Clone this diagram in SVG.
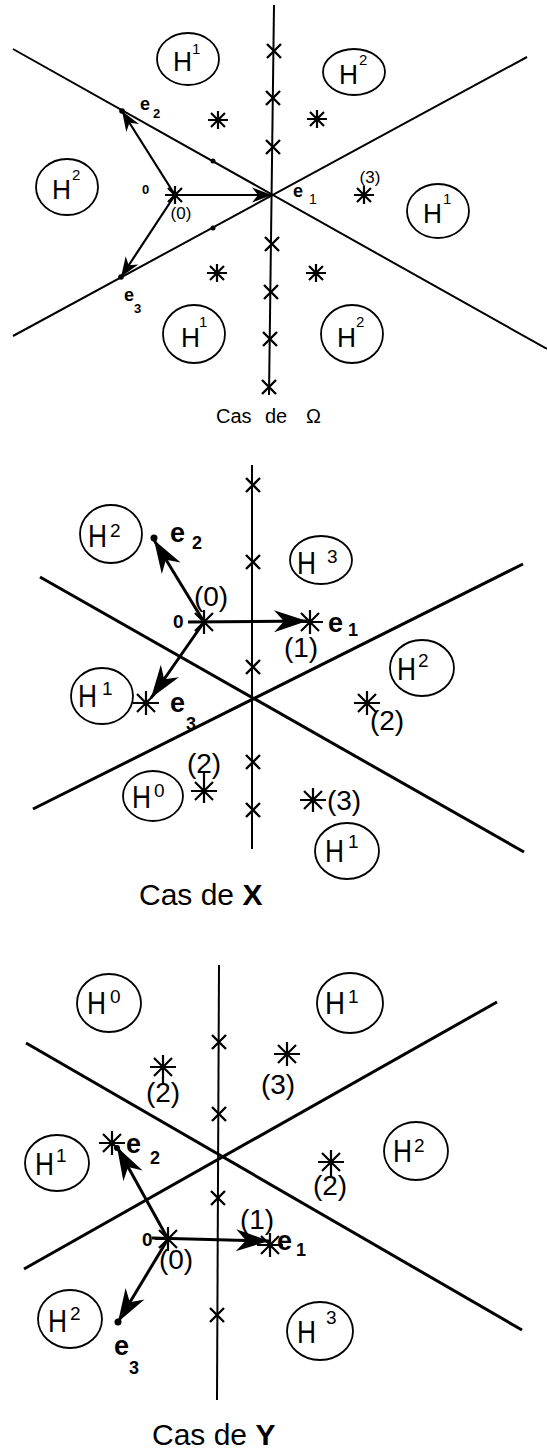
<svg xmlns="http://www.w3.org/2000/svg" xmlns:xlink="http://www.w3.org/1999/xlink" width="547" height="1453" viewBox="0 0 547 1453">
<style>
.ln{stroke:#000;fill:none;stroke-linecap:butt}
.l1{stroke-width:2}
.l2{stroke-width:3}
.ax{stroke-width:2}
.ar1{stroke-width:2.2}
.ar2{stroke-width:3}
.cr{stroke:#000;stroke-width:2.4;fill:none}
.st{stroke:#000;stroke-width:2.2;fill:none}
.el{stroke:#000;stroke-width:1.8;fill:none}
text{font-family:"Liberation Sans",Arial,sans-serif;fill:#000}
.b{font-weight:bold}
.h1{font-size:27px}
.s1{font-size:15px}
.h2{font-size:32px}
.s2{font-size:19px}
.p1{font-size:17px}
.p2{font-size:28px}
.e1{font-size:18px;font-weight:bold}
.e2{font-size:27px;font-weight:bold}
.d2{font-size:18px;font-weight:bold}
</style>
<defs>
<path id="sA" d="M-10,0H10M0,-9V9M-7,-7L7,7M-7,7L7,-7"/>
<path id="sB" d="M-13,0H13M0,-12V12M-9,-9L9,9M-9,9L9,-9"/>
<path id="xx" d="M-7,-7L7,7M-7,7L7,-7"/>
<marker id="ah1" markerUnits="userSpaceOnUse" markerWidth="21" markerHeight="15" refX="20" refY="7.5" orient="auto" overflow="visible"><path d="M20,7.5 L0,0 L6,7.5 L0,15 z" fill="#000"/></marker>
<marker id="ah2" markerUnits="userSpaceOnUse" markerWidth="34" markerHeight="22" refX="33" refY="11" orient="auto" overflow="visible"><path d="M33,11 L0,0 L10,11 L0,22 z" fill="#000"/></marker>
</defs>

<!-- ===== Panel 1 : Cas de Omega ===== -->
<g id="p1-connectors">
<line class="ln l1" x1="13" y1="49" x2="547" y2="349"/>
<line class="ln l1" x1="13" y1="336" x2="527" y2="57"/>
<line class="ln ax" x1="274" y1="5" x2="269" y2="395"/>
<line class="ln ar1" x1="175" y1="195" x2="272" y2="195" marker-end="url(#ah1)"/>
<line class="ln ar1" x1="175" y1="195" x2="122" y2="111" marker-end="url(#ah1)"/>
<line class="ln ar1" x1="175" y1="195" x2="121" y2="277" marker-end="url(#ah1)"/>
</g>
<g id="p1-crosses">
<use href="#xx" class="cr" x="274" y="51"/>
<use href="#xx" class="cr" x="273" y="98"/>
<use href="#xx" class="cr" x="273" y="147"/>
<use href="#xx" class="cr" x="272" y="244"/>
<use href="#xx" class="cr" x="271" y="292"/>
<use href="#xx" class="cr" x="270" y="339"/>
<use href="#xx" class="cr" x="269" y="387"/>
</g>
<g id="p1-dots">
<circle cx="122" cy="111" r="2.8"/>
<circle cx="121" cy="277" r="2.8"/>
<circle cx="213" cy="161" r="2.5"/>
<circle cx="213" cy="228" r="2.5"/>
</g>
<g id="p1-stars">
<use href="#sA" class="st" x="175" y="195"/>
<use href="#sA" class="st" x="218" y="120"/>
<use href="#sA" class="st" x="317" y="119"/>
<use href="#sA" class="st" x="217" y="273"/>
<use href="#sA" class="st" x="316" y="273"/>
<use href="#sA" class="st" x="364" y="195"/>
</g>
<g id="p1-H1-top"><ellipse class="el" cx="188" cy="59" rx="31" ry="26"/><text class="h1" x="173" y="71" textLength="19" lengthAdjust="spacingAndGlyphs">H</text><text class="s1" x="192" y="54">1</text></g>
<g id="p1-H2-top"><ellipse class="el" cx="354" cy="72" rx="31" ry="23"/><text class="h1" x="339" y="84" textLength="19" lengthAdjust="spacingAndGlyphs">H</text><text class="s1" x="359" y="65">2</text></g>
<g id="p1-H2-left"><ellipse class="el" cx="67" cy="187" rx="31" ry="28"/><text class="h1" x="52" y="199" textLength="19" lengthAdjust="spacingAndGlyphs">H</text><text class="s1" x="72" y="180">2</text></g>
<g id="p1-H1-right"><ellipse class="el" cx="438" cy="211" rx="31" ry="27"/><text class="h1" x="423" y="223" textLength="19" lengthAdjust="spacingAndGlyphs">H</text><text class="s1" x="443" y="204">1</text></g>
<g id="p1-H1-bottom"><ellipse class="el" cx="194" cy="334" rx="31" ry="29"/><text class="h1" x="181" y="347" textLength="19" lengthAdjust="spacingAndGlyphs">H</text><text class="s1" x="199" y="327">1</text></g>
<g id="p1-H2-bottom"><ellipse class="el" cx="352" cy="334" rx="31" ry="29"/><text class="h1" x="337" y="347" textLength="19" lengthAdjust="spacingAndGlyphs">H</text><text class="s1" x="356" y="327">2</text></g>
<g id="p1-labels">
<text class="e1" x="140" y="110">e</text><text class="b" style="font-size:13px" x="153" y="118">2</text>
<text class="e1" x="293" y="197">e</text><text style="font-size:14px" x="309" y="204">1</text>
<text class="e1" x="124" y="301">e</text><text class="b" style="font-size:13px" x="134" y="313">3</text>
<text class="b" style="font-size:13px" x="142" y="194">0</text>
<text class="p1" x="181" y="219" text-anchor="middle">(0)</text>
<text class="p1" x="370" y="183" text-anchor="middle">(3)</text>
</g>
<g id="p1-caption">
<text style="font-size:20px" x="216" y="423">Cas</text>
<text style="font-size:20px" x="265" y="423">de</text>
<text style="font-size:20px" x="306" y="423">Ω</text>
</g>

<!-- ===== Panel 2 : Cas de X ===== -->
<g id="p2-connectors">
<line class="ln l2" x1="40" y1="577" x2="524" y2="852"/>
<line class="ln l2" x1="33" y1="809" x2="523" y2="564"/>
<line class="ln ax" x1="252" y1="465" x2="252" y2="849"/>
<line class="ln ar2" x1="188" y1="622" x2="307" y2="621" marker-end="url(#ah2)"/>
<line class="ln ar2" x1="204" y1="622" x2="154" y2="540" marker-end="url(#ah2)"/>
<line class="ln ar2" x1="204" y1="622" x2="151" y2="698" marker-end="url(#ah2)"/>
</g>
<g id="p2-crosses">
<use href="#xx" class="cr" x="253" y="485"/>
<use href="#xx" class="cr" x="253" y="562"/>
<use href="#xx" class="cr" x="253" y="667"/>
<use href="#xx" class="cr" x="253" y="762"/>
<use href="#xx" class="cr" x="253" y="810"/>
</g>
<g id="p2-stars">
<use href="#sB" class="st" x="204" y="622"/>
<use href="#sB" class="st" x="310" y="622"/>
<use href="#sB" class="st" x="146" y="703"/>
<use href="#sB" class="st" x="367" y="703"/>
<use href="#sB" class="st" x="204" y="791"/>
<use href="#sB" class="st" x="313" y="800"/>
<line class="st" x1="204" y1="779" x2="204" y2="773"/>
</g>
<circle cx="154" cy="538" r="3.5"/>
<g id="p2-H2-left"><ellipse class="el" cx="111" cy="534" rx="31" ry="29"/><text class="h2" x="88" y="547" textLength="19" lengthAdjust="spacingAndGlyphs">H</text><text class="s2" x="110" y="537">2</text></g>
<g id="p2-H3"><ellipse class="el" cx="321" cy="560" rx="31" ry="24"/><text class="h2" x="297" y="574" textLength="19" lengthAdjust="spacingAndGlyphs">H</text><text class="s2" x="327" y="563">3</text></g>
<g id="p2-H2-right"><ellipse class="el" cx="422" cy="668" rx="32" ry="28"/><text class="h2" x="397" y="680" textLength="19" lengthAdjust="spacingAndGlyphs">H</text><text class="s2" x="418" y="667">2</text></g>
<g id="p2-H1-left"><ellipse class="el" cx="102" cy="696" rx="31" ry="28"/><text class="h2" x="78" y="707" textLength="19" lengthAdjust="spacingAndGlyphs">H</text><text class="s2" x="102" y="695">1</text></g>
<g id="p2-H0"><ellipse class="el" cx="153" cy="796" rx="30" ry="25"/><text class="h2" x="132" y="808" textLength="19" lengthAdjust="spacingAndGlyphs">H</text><text class="s2" x="154" y="797">0</text></g>
<g id="p2-H1-bottom"><ellipse class="el" cx="347" cy="851" rx="32" ry="28"/><text class="h2" x="325" y="862" textLength="19" lengthAdjust="spacingAndGlyphs">H</text><text class="s2" x="348" y="848">1</text></g>
<g id="p2-labels">
<text class="e2" x="170" y="542">e</text><text class="d2" x="192" y="549">2</text>
<text class="e2" x="328" y="632">e</text><text class="d2" x="348" y="636">1</text>
<text class="e2" x="170" y="712">e</text><text class="d2" x="186" y="730">3</text>
<text class="b" style="font-size:19px" x="173" y="628">0</text>
<text class="p2" x="211" y="606" text-anchor="middle">(0)</text>
<text class="p2" x="301" y="657" text-anchor="middle">(1)</text>
<text class="p2" x="387" y="730" text-anchor="middle">(2)</text>
<text class="p2" x="344" y="810" text-anchor="middle">(3)</text>
<text class="p2" x="204" y="773" text-anchor="middle">(2)</text>
</g>
<g id="p2-caption">
<text style="font-size:30px" x="139" y="905">Cas de <tspan class="b">X</tspan></text>
</g>

<!-- ===== Panel 3 : Cas de Y ===== -->
<g id="p3-connectors">
<line class="ln l2" x1="26" y1="1043" x2="522" y2="1330"/>
<line class="ln l2" x1="24" y1="1269" x2="497" y2="1002"/>
<line class="ln ax" x1="219" y1="965" x2="217" y2="1400"/>
<line class="ln ar2" x1="152" y1="1238" x2="269" y2="1241" marker-end="url(#ah2)"/>
<line class="ln ar2" x1="168" y1="1239" x2="117" y2="1147" marker-end="url(#ah2)"/>
<line class="ln ar2" x1="168" y1="1239" x2="118" y2="1322" marker-end="url(#ah2)"/>
</g>
<g id="p3-crosses">
<use href="#xx" class="cr" x="219" y="1042"/>
<use href="#xx" class="cr" x="219" y="1114"/>
<use href="#xx" class="cr" x="218" y="1198"/>
<use href="#xx" class="cr" x="217" y="1315"/>
</g>
<g id="p3-stars">
<use href="#sB" class="st" x="168" y="1239"/>
<use href="#sB" class="st" x="112" y="1143"/>
<use href="#sB" class="st" x="163" y="1067"/>
<use href="#sB" class="st" x="287" y="1054"/>
<use href="#sB" class="st" x="331" y="1162"/>
<use href="#sB" class="st" x="270" y="1245"/>
<line class="st" x1="163" y1="1079" x2="163" y2="1084"/>
<line class="st" x1="331" y1="1174" x2="331" y2="1178"/>
</g>
<circle cx="118" cy="1322" r="3.5"/>
<circle cx="117" cy="1148" r="3"/>
<g id="p3-H0"><ellipse class="el" cx="109" cy="1003" rx="32" ry="29"/><text class="h2" x="87" y="1014" textLength="19" lengthAdjust="spacingAndGlyphs">H</text><text class="s2" x="110" y="1003">0</text></g>
<g id="p3-H1-top"><ellipse class="el" cx="350" cy="1003" rx="33" ry="30"/><text class="h2" x="325" y="1014" textLength="20" lengthAdjust="spacingAndGlyphs">H</text><text class="s2" x="348" y="1003">1</text></g>
<g id="p3-H1-left"><ellipse class="el" cx="57" cy="1163" rx="32" ry="28"/><text class="h2" x="35" y="1175" textLength="19" lengthAdjust="spacingAndGlyphs">H</text><text class="s2" x="56" y="1162">1</text></g>
<g id="p3-H2-right"><ellipse class="el" cx="416" cy="1151" rx="32" ry="29"/><text class="h2" x="393" y="1162" textLength="19" lengthAdjust="spacingAndGlyphs">H</text><text class="s2" x="414" y="1152">2</text></g>
<g id="p3-H2-left"><ellipse class="el" cx="70" cy="1319" rx="32" ry="29"/><text class="h2" x="48" y="1332" textLength="19" lengthAdjust="spacingAndGlyphs">H</text><text class="s2" x="70" y="1320">2</text></g>
<g id="p3-H3"><ellipse class="el" cx="320" cy="1331" rx="33" ry="29"/><text class="h2" x="297" y="1343" textLength="19" lengthAdjust="spacingAndGlyphs">H</text><text class="s2" x="326" y="1324">3</text></g>
<g id="p3-labels">
<text class="e2" x="126" y="1153">e</text><text class="d2" x="150" y="1164">2</text>
<text class="e2" x="277" y="1250">e</text><text class="d2" x="296" y="1256">1</text>
<text class="e2" x="114" y="1355">e</text><text class="d2" x="129" y="1374">3</text>
<text class="b" style="font-size:19px" x="142" y="1246">0</text>
<text class="p2" x="176" y="1269" text-anchor="middle">(0)</text>
<text class="p2" x="257" y="1229" text-anchor="middle">(1)</text>
<text class="p2" x="163" y="1102" text-anchor="middle">(2)</text>
<text class="p2" x="278" y="1094" text-anchor="middle">(3)</text>
<text class="p2" x="330" y="1195" text-anchor="middle">(2)</text>
</g>
<g id="p3-caption">
<text style="font-size:30px" x="152" y="1445">Cas de <tspan class="b">Y</tspan></text>
</g>
</svg>
